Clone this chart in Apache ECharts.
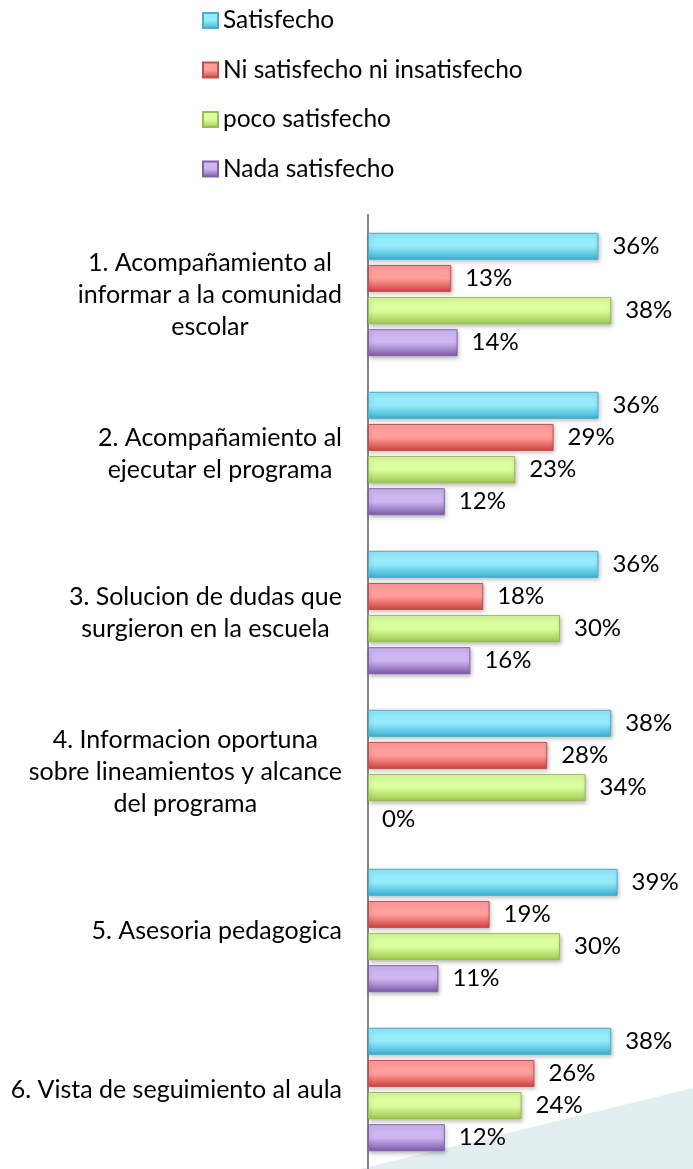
<!DOCTYPE html>
<html>
<head>
<meta charset="utf-8">
<script src="https://cdn.jsdelivr.net/npm/echarts@6/dist/echarts.min.js"></script>
<style>
html,body{margin:0;padding:0;background:#fff;}
#chart{width:693px;height:1169px;}
</style>
</head>
<body>
<div id="chart"></div>
<script>
const categories = [
  "1. Acompañamiento al\ninformar a la comunidad\nescolar",
  "2. Acompañamiento al\nejecutar el programa",
  "3. Solucion de dudas que\nsurgieron en la escuela",
  "4. Informacion oportuna\nsobre lineamientos y alcance\ndel programa",
  "5. Asesoria pedagogica",
  "6. Vista de seguimiento al aula"
];
const seriesNames = ["Satisfecho", "Ni satisfecho ni insatisfecho", "poco satisfecho", "Nada satisfecho"];
const satisfecho = [36, 36, 36, 38, 39, 38];
const niSatisfecho = [13, 29, 18, 28, 19, 26];
const pocoSatisfecho = [38, 23, 30, 34, 30, 24];
const nadaSatisfecho = [14, 12, 16, 0, 11, 12];

const FONT = 'Lato';
const palette = [
  {top:'#96ebfc', bottom:'#38b2d3', border:'#4bacc6'},
  {top:'#ff9e9c', bottom:'#d0403f', border:'#c0504d'},
  {top:'#dcfe9f', bottom:'#9dca4c', border:'#9bbb59'},
  {top:'#cdb6f2', bottom:'#7b58a6', border:'#8064a2'}
];
function grad(p){
  return {type:'linear', x:0, y:0, x2:0, y2:1, colorStops:[
    {offset:0, color:p.top},{offset:0.5, color:p.top},{offset:1, color:p.bottom}
  ]};
}
const values = [satisfecho, niSatisfecho, pocoSatisfecho, nadaSatisfecho];

const chart = echarts.init(document.getElementById('chart'));
chart.setOption({
  animation:false,
  backgroundColor:'#ffffff',
  graphic:[{
    type:'polygon', z:-10, silent:true,
    shape:{points:[[360,1169],[693,1088],[693,1169]]},
    style:{fill:'#e2eef0'}
  }],
  legend:{
    orient:'vertical', left:197, top:3,
    itemWidth:15, itemHeight:15, itemGap:24.5,
    icon:'rect',
    textStyle:{fontFamily:FONT, fontSize:24.5, color:'#000', lineHeight:24},
    data:seriesNames
  },
  grid:{left:368, top:215, width:320, height:960, containLabel:false},
  xAxis:{type:'value', min:0, max:50, show:false, splitLine:{show:false}},
  yAxis:{
    type:'category', data:categories, inverse:true,
    axisLine:{show:true, lineStyle:{color:'#868686', width:2}},
    axisTick:{show:false},
    axisLabel:{
      margin:26, align:'right',
      fontFamily:FONT, fontSize:25, color:'#000',
      formatter:function(v){ return v.split('\n').map(function(l){return '{c|'+l+'}';}).join('\n'); },
      rich:{c:{align:'center', fontFamily:FONT, fontSize:25, color:'#000', lineHeight:32}}
    }
  },
  series: values.map(function(arr, i){
    return {
      name:seriesNames[i], type:'bar',
      data:arr.map(function(v){
        return v === 0 ? {value:v, itemStyle:{borderWidth:0, shadowBlur:0, shadowOffsetX:0, shadowOffsetY:0}} : v;
      }),
      barWidth:27, barGap:'19%',
      itemStyle:{color:grad(palette[i]), borderColor:palette[i].border, borderWidth:1,
        shadowColor:'rgba(0,0,0,0.25)', shadowBlur:4, shadowOffsetY:2, shadowOffsetX:1},
      label:{show:true, position:'right', distance:14, fontFamily:FONT, fontSize:24, color:'#000',
        formatter:function(p){return p.value+'%';}}
    };
  })
});
</script>
</body>
</html>
